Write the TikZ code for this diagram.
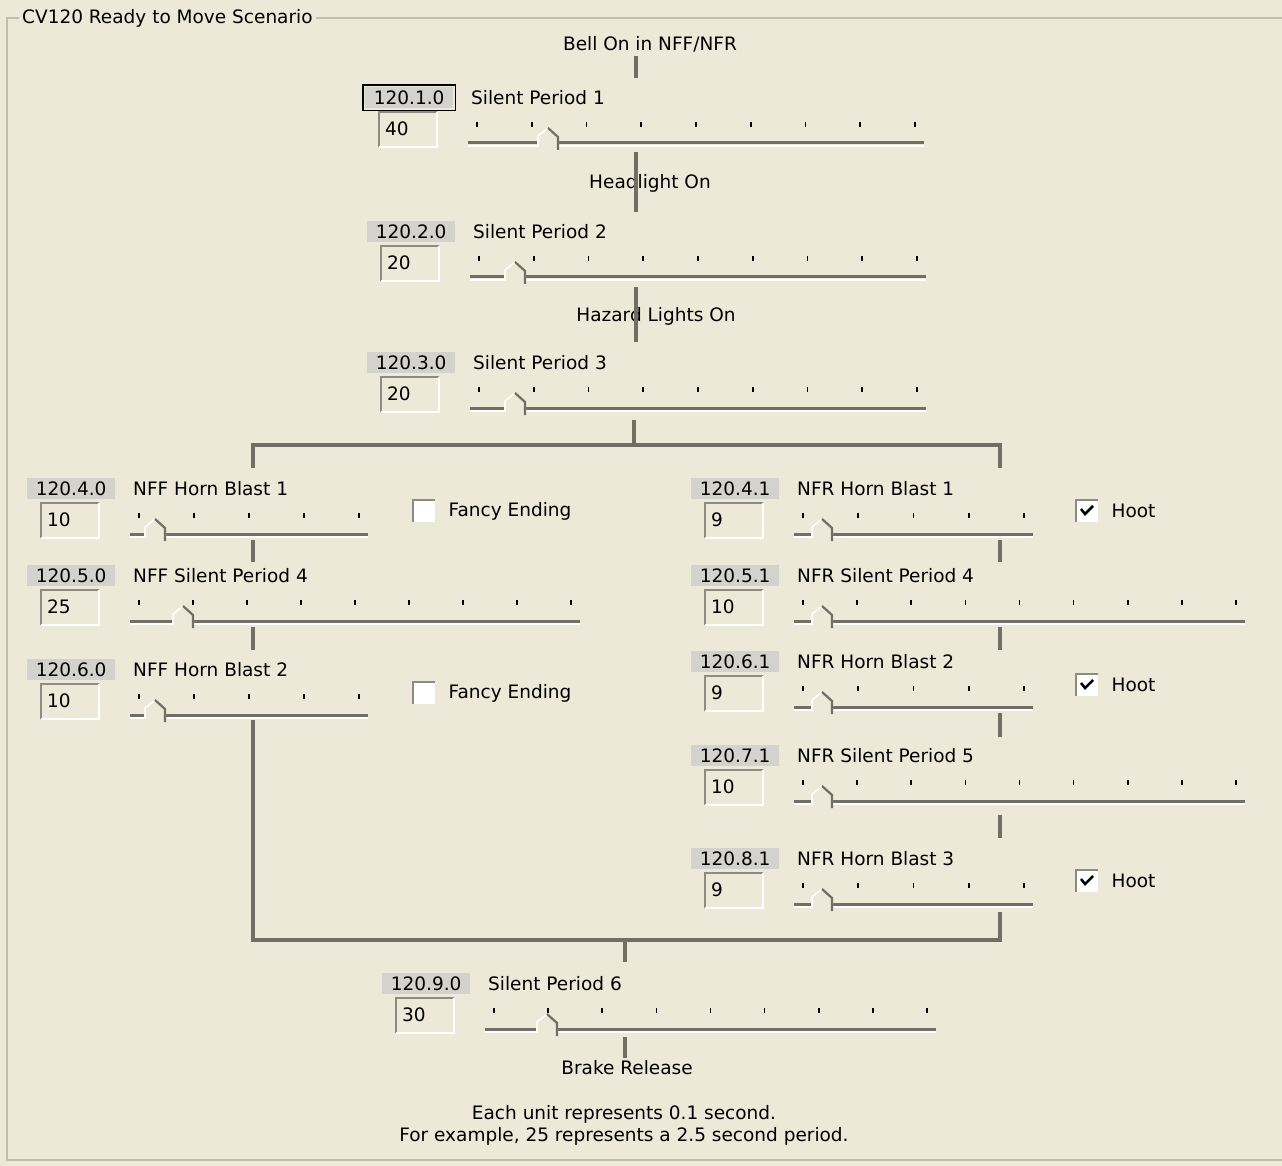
\documentclass[tikz,border=0pt]{standalone}
\usepackage{fontspec}
\setmainfont{DejaVu Sans}
\usepackage{tikz}
\definecolor{fondo}{RGB}{236,233,216}
\definecolor{gris}{RGB}{211,210,205}
\definecolor{linea}{RGB}{113,111,100}
\definecolor{sombra}{RGB}{140,140,130}
\definecolor{marco}{RGB}{190,190,176}
\tikzstyle{idbox} = [fill=gris, minimum width=88pt, minimum height=21pt, inner sep=0pt, anchor=north west]
\tikzstyle{etiqueta} = [anchor=west, inner sep=0pt]
\tikzstyle{valuebox} = [minimum width=58pt, minimum height=35pt, inner sep=0pt, anchor=north west]
\tikzstyle{caja} = [fill=white, minimum size=22pt, inner sep=0pt, anchor=north west]
\tikzstyle{wire} = [draw=linea, line width=3.5pt]
\tikzstyle{tick} = [draw=black, line width=1.6pt]
% one row: name, id, label, value, label x, top y, track end, ticks, thumb x
\newcommand{\fila}[9]{%
  \node[idbox] (#1id) at (#5-106,#6) {#2};
  \node[etiqueta] (#1lbl) at (#5,#6+10.5) {#3};
  \node[valuebox] (#1val) at (#5-92,#6+25) {};
  \node[etiqueta] at ([xshift=6pt,yshift=1pt]#1val.west) {#4};
  \draw[sombra, line width=2pt] (#1val.south west) -- (#1val.north west) -- (#1val.north east);
  \draw[white, line width=2pt] (#1val.north east) -- (#1val.south east) -- (#1val.south west);
  \foreach \k in {1,...,#8}{
    \pgfmathsetmacro\tx{#5+6+(\k-1)*(#7-#5-15)/(#8-1)}
    \draw[tick] (\tx,#6+35) -- (\tx,#6+40);}
  \draw[linea, line width=3pt] (#5-3,#6+56) -- (#7,#6+56);
  \draw[white, line width=1.5pt] (#5-3,#6+59) -- (#7,#6+59);
  \fill[fondo] (#9-11,#6+62) -- (#9-11,#6+49) -- (#9,#6+41) -- (#9+11,#6+49) -- (#9+11,#6+62) -- cycle;
  \draw[white, line width=1.5pt] (#9-10,#6+60) -- (#9-10,#6+49) -- (#9,#6+41);
  \draw[linea, line width=2.2pt] (#9,#6+41) -- (#9+10,#6+50) -- (#9+10,#6+63);
}
% checkbox: name, x, y, text
\newcommand{\casilla}[4]{%
  \node[caja] (#1) at (#2,#3) {};
  \draw[sombra, line width=1.5pt] (#1.south west) -- (#1.north west) -- (#1.north east);
  \node[etiqueta] at ([xshift=13pt]#1.east) {#4};
}
\newcommand{\marca}[1]{\draw[black, line width=2.5pt] ([shift={(5pt,-9pt)}]#1.north west) -- ++(4pt,-5pt) -- ++(8pt,8pt);}

\begin{document}
\begin{tikzpicture}[x=1pt, y=-1pt, every node/.style={font=\fontsize{18.5}{22}\selectfont}]
	\fill[fondo] (0,0) rectangle (1282,1166);
	\useasboundingbox (0,0) rectangle (1282,1166);
	% group frame
	\draw[marco, line width=1.5pt] (1290,18) -- (7,18) -- (7,1160) -- (1290,1160);
	\node[fill=fondo, inner sep=3pt, anchor=west] (titulo) at (19,18) {CV120 Ready to Move Scenario};

	\node (bell) at (650,44) {Bell On in NFF/NFR};
	\fila{b1}{120.1.0}{Silent Period 1}{40}{471}{87}{924}{9}{548}
	\draw[black, line width=1.5pt] ([shift={(-2pt,2pt)}]b1id.north west) rectangle ([shift={(2pt,-2pt)}]b1id.south east);
	\node (luz) at (650,183) {Headlight On};
	\fila{b2}{120.2.0}{Silent Period 2}{20}{473}{221}{926}{9}{515}
	\node (hazard) at (656,316) {Hazard Lights On};
	\fila{b3}{120.3.0}{Silent Period 3}{20}{473}{352}{926}{9}{515}

	% NFF side
	\fila{b4}{120.4.0}{NFF Horn Blast 1}{10}{133}{478}{368}{5}{155}
	\casilla{c4}{413}{500}{Fancy Ending}
	\fila{b5}{120.5.0}{NFF Silent Period 4}{25}{133}{565}{580}{9}{183}
	\fila{b6}{120.6.0}{NFF Horn Blast 2}{10}{133}{659}{368}{5}{155}
	\casilla{c6}{413}{682}{Fancy Ending}

	% NFR side
	\fila{r4}{120.4.1}{NFR Horn Blast 1}{9}{797}{478}{1033}{5}{822}
	\casilla{h4}{1076}{500}{Hoot} \marca{h4}
	\fila{r5}{120.5.1}{NFR Silent Period 4}{10}{797}{565}{1245}{9}{822}
	\fila{r6}{120.6.1}{NFR Horn Blast 2}{9}{797}{651}{1033}{5}{822}
	\casilla{h6}{1076}{674}{Hoot} \marca{h6}
	\fila{r7}{120.7.1}{NFR Silent Period 5}{10}{797}{745}{1245}{9}{822}
	\fila{r8}{120.8.1}{NFR Horn Blast 3}{9}{797}{848}{1033}{5}{822}
	\casilla{h8}{1076}{870}{Hoot} \marca{h8}

	\fila{b9}{120.9.0}{Silent Period 6}{30}{488}{973}{936}{9}{547}
	\node (freno) at (627,1068) {Brake Release};
	\node[align=center] (nota) at (624,1125) {Each unit represents 0.1 second.\\For example, 25 represents a 2.5 second period.};

	% joints
	\coordinate (t0) at (636,56);   \coordinate (t1) at (636,78);
	\coordinate (t2) at (636,152);  \coordinate (t3) at (636,212);
	\coordinate (t4) at (636,287);  \coordinate (t5) at (636,342);
	\coordinate (t6) at (634,420);  \coordinate (split) at (634,445);
	\coordinate (sl) at (253,445);  \coordinate (sr) at (1000,445);
	\coordinate (sl1) at (253,468); \coordinate (sr1) at (1000,468);
	\coordinate (l1) at (253,540);  \coordinate (l2) at (253,562);
	\coordinate (l3) at (253,627);  \coordinate (l4) at (253,650);
	\coordinate (l5) at (253,720);  \coordinate (ml) at (253,940);
	\coordinate (q1) at (1000,540); \coordinate (q2) at (1000,562);
	\coordinate (q3) at (1000,627); \coordinate (q4) at (1000,650);
	\coordinate (q5) at (1000,713); \coordinate (q6) at (1000,737);
	\coordinate (q7) at (1000,815); \coordinate (q8) at (1000,838);
	\coordinate (q9) at (1000,912); \coordinate (mr) at (1000,940);
	\coordinate (merge) at (625,940); \coordinate (m1) at (625,962);
	\coordinate (e0) at (625,1037); \coordinate (e1) at (625,1058);

	\draw[wire] (t0) -- (t1);
	\draw[wire] (t2) -- (t3);
	\draw[wire] (t4) -- (t5);
	\draw[wire] (t6) -- (split);
	\draw[wire] (sl1) -- (sl) -- (sr) -- (sr1);
	\draw[wire] (l1) -- (l2);
	\draw[wire] (l3) -- (l4);
	\draw[wire] (l5) -- (ml) -- (mr) -- (q9);
	\draw[wire] (q1) -- (q2);
	\draw[wire] (q3) -- (q4);
	\draw[wire] (q5) -- (q6);
	\draw[wire] (q7) -- (q8);
	\draw[wire] (merge) -- (m1);
	\draw[wire] (e0) -- (e1);
\end{tikzpicture}
\end{document}
